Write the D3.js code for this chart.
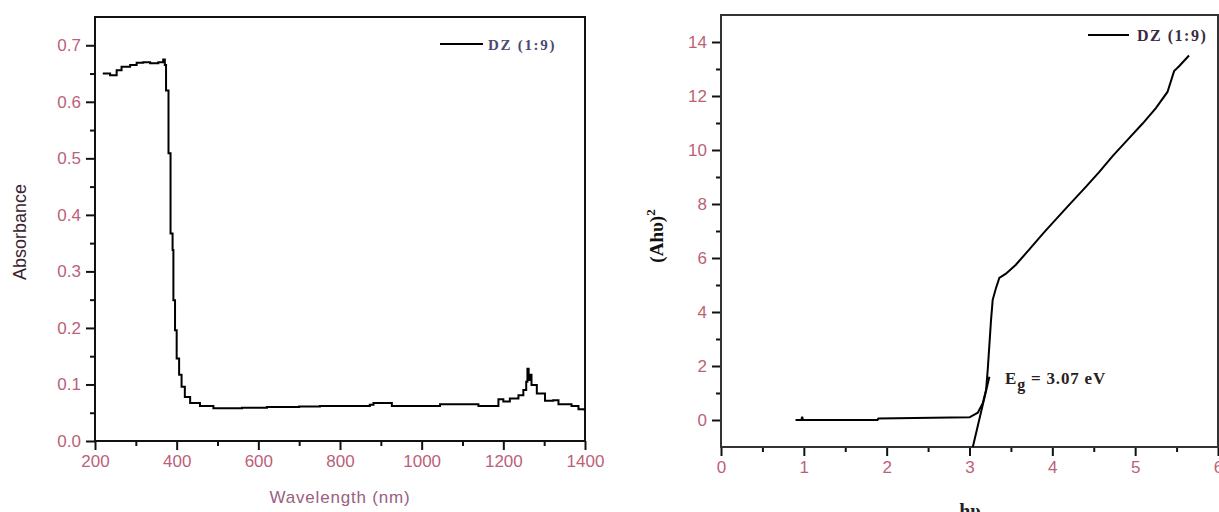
<!DOCTYPE html>
<html>
<head>
<meta charset="utf-8">
<script src="https://cdn.jsdelivr.net/npm/d3@7"></script>
<style>
  html, body { margin: 0; padding: 0; background: #fff; }
  svg { display: block; }
</style>
</head>
<body>
<svg id="chart" width="1219" height="512"></svg>
<script>
// ---------- Data: left panel (UV-Vis absorbance) ----------
const absWavelength = [219, 237, 253, 265, 286, 302, 318, 335, 355, 367, 371, 374, 380, 385, 390, 392, 396, 400, 406, 412, 420, 433, 457, 490, 560, 621, 700, 751, 873, 882, 922, 927, 1041, 1045, 1135, 1139, 1176, 1188, 1200, 1216, 1237, 1249, 1256, 1259, 1262, 1265, 1269, 1282, 1302, 1322, 1335, 1367, 1384, 1398];
const absValue      = [0.650, 0.647, 0.656, 0.662, 0.665, 0.669, 0.670, 0.668, 0.670, 0.675, 0.665, 0.620, 0.509, 0.367, 0.338, 0.249, 0.196, 0.146, 0.117, 0.096, 0.078, 0.067, 0.062, 0.058, 0.059, 0.060, 0.061, 0.062, 0.064, 0.067, 0.067, 0.062, 0.062, 0.065, 0.065, 0.062, 0.062, 0.074, 0.070, 0.075, 0.081, 0.090, 0.105, 0.128, 0.108, 0.117, 0.099, 0.084, 0.071, 0.072, 0.065, 0.062, 0.056, 0.054];
const absXTicks = [200, 400, 600, 800, 1000, 1200, 1400];
const absYTicks = [0.0, 0.1, 0.2, 0.3, 0.4, 0.5, 0.6, 0.7];

// ---------- Data: right panel (Tauc plot) ----------
const taucHv  = [0.90, 0.97, 0.98, 0.99, 1.89, 1.90, 3.00, 3.10, 3.16, 3.20, 3.22, 3.24, 3.26, 3.28, 3.32, 3.36, 3.44, 3.56, 3.72, 3.90, 4.04, 4.20, 4.41, 4.57, 4.73, 4.93, 5.09, 5.25, 5.39, 5.47, 5.53, 5.65];
const taucVal = [0.00, 0.00, 0.12, 0.00, 0.00, 0.06, 0.10, 0.27, 0.62, 1.11, 1.86, 2.78, 3.71, 4.45, 4.89, 5.26, 5.42, 5.75, 6.31, 6.95, 7.42, 7.96, 8.65, 9.20, 9.78, 10.45, 10.98, 11.55, 12.15, 12.92, 13.10, 13.50];
const tangentHv  = [3.04, 3.24];
const tangentVal = [-1.0, 1.6];
const taucXTicks = [0, 1, 2, 3, 4, 5, 6];
const taucYTicks = [0, 2, 4, 6, 8, 10, 12, 14];

const seriesName = "DZ (1:9)";
const bandGapLabel = "3.07 eV";

// ---------- Styles ----------
const tickColor = "#bc5f78";
const axisColor = "#111";
const sans = "'Liberation Sans', Arial, sans-serif";
const serif = "'Liberation Serif', 'Times New Roman', serif";

const svg = d3.select("#chart");

function drawPanel(cfg) {
  const x = d3.scaleLinear().domain(cfg.xDomain).range([cfg.left, cfg.right]);
  const y = d3.scaleLinear().domain(cfg.yDomain).range([cfg.bottom, cfg.top]);
  const g = svg.append("g");

  const xMinor = g.append("g").attr("transform", `translate(0,${cfg.bottom})`)
    .call(d3.axisBottom(x).tickValues(cfg.xMinor).tickSize(5).tickFormat(""));
  const yMinor = g.append("g").attr("transform", `translate(${cfg.left},0)`)
    .call(d3.axisLeft(y).tickValues(cfg.yMinor).tickSize(5).tickFormat(""));

  const xAx = g.append("g").attr("transform", `translate(0,${cfg.bottom})`)
    .call(d3.axisBottom(x).tickValues(cfg.xTicks).tickSize(9).tickSizeOuter(0).tickPadding(5).tickFormat(cfg.xFmt));
  const yAx = g.append("g").attr("transform", `translate(${cfg.left},0)`)
    .call(d3.axisLeft(y).tickValues(cfg.yTicks).tickSize(9).tickSizeOuter(0).tickPadding(5).tickFormat(cfg.yFmt));

  [xMinor, yMinor, xAx, yAx].forEach(a => {
    a.select(".domain").remove();
    a.selectAll("line").attr("stroke", axisColor).attr("stroke-width", 2);
  });
  [xAx, yAx].forEach(a => a.selectAll("text")
    .attr("fill", tickColor).attr("font-family", sans).attr("font-size", 17));

  g.append("rect")
    .attr("x", cfg.left).attr("y", cfg.top)
    .attr("width", cfg.right - cfg.left).attr("height", cfg.bottom - cfg.top)
    .attr("fill", "none").attr("stroke", cfg.frameColor || axisColor).attr("stroke-width", 2);

  return { x, y, g };
}

// ---------- Left panel ----------
const L = drawPanel({
  left: 95, right: 585, top: 17, bottom: 441,
  xDomain: [200, 1400], yDomain: [0, 0.75],
  xTicks: absXTicks, yTicks: absYTicks,
  xMinor: d3.range(300, 1400, 200), yMinor: d3.range(0.05, 0.75, 0.1),
  xFmt: d3.format("d"), yFmt: d3.format(".1f")
});
L.g.append("path")
  .datum(absWavelength.map((w, i) => [w, absValue[i]]))
  .attr("fill", "none").attr("stroke", "#000").attr("stroke-width", 2)
  .attr("d", d3.line().x(d => L.x(d[0])).y(d => L.y(d[1])).curve(d3.curveStepAfter));

L.g.append("text")
  .attr("transform", "translate(26,232) rotate(-90)")
  .attr("text-anchor", "middle").attr("font-family", sans).attr("font-size", 18)
  .attr("fill", "#3a2430").text("Absorbance");
L.g.append("text")
  .attr("x", 340).attr("y", 503)
  .attr("text-anchor", "middle").attr("font-family", sans).attr("font-size", 17)
  .attr("letter-spacing", 0.8)
  .attr("fill", "#9a6080").text("Wavelength (nm)");

// legend left
L.g.append("line").attr("x1", 440).attr("x2", 483).attr("y1", 44).attr("y2", 44)
  .attr("stroke", "#000").attr("stroke-width", 2);
L.g.append("text").attr("x", 488).attr("y", 50)
  .attr("font-family", serif).attr("font-weight", "bold").attr("font-size", 15)
  .attr("letter-spacing", 1.7).attr("fill", "#4a4a70").text(seriesName);

// ---------- Right panel ----------
const R = drawPanel({
  left: 721, right: 1218, top: 15, bottom: 447, frameColor: "#333",
  xDomain: [0, 6], yDomain: [-1, 15],
  xTicks: taucXTicks, yTicks: taucYTicks,
  xMinor: d3.range(0.5, 6, 1), yMinor: d3.range(1, 15, 2),
  xFmt: d3.format("d"), yFmt: d3.format("d")
});
R.g.append("path")
  .datum(tangentHv.map((h, i) => [h, tangentVal[i]]))
  .attr("fill", "none").attr("stroke", "#000").attr("stroke-width", 2)
  .attr("d", d3.line().x(d => R.x(d[0])).y(d => R.y(d[1])));
R.g.append("path")
  .datum(taucHv.map((h, i) => [h, taucVal[i]]))
  .attr("fill", "none").attr("stroke", "#000").attr("stroke-width", 2)
  .attr("d", d3.line().x(d => R.x(d[0])).y(d => R.y(d[1])));

const yl = R.g.append("text")
  .attr("transform", "translate(663,236) rotate(-90)")
  .attr("text-anchor", "middle").attr("font-family", serif).attr("font-weight", "bold")
  .attr("font-size", 19).attr("fill", "#111");
yl.append("tspan").text("(Ahυ)");
yl.append("tspan").attr("dy", -8).attr("font-size", 13).text("2");

R.g.append("text")
  .attr("x", 970).attr("y", 518)
  .attr("text-anchor", "middle").attr("font-family", serif).attr("font-weight", "bold")
  .attr("font-size", 20).attr("fill", "#222").text("hυ");

// band gap annotation
const eg = R.g.append("text").attr("x", 1005).attr("y", 384)
  .attr("font-family", serif).attr("font-weight", "bold").attr("font-size", 17)
  .attr("letter-spacing", 0.8).attr("fill", "#2a2020");
eg.append("tspan").text("E");
eg.append("tspan").attr("dy", 6).attr("font-size", 16).text("g");
eg.append("tspan").attr("dy", -6).text(" = " + bandGapLabel);

// legend right
R.g.append("line").attr("x1", 1088).attr("x2", 1129).attr("y1", 35).attr("y2", 35)
  .attr("stroke", "#000").attr("stroke-width", 2);
R.g.append("text").attr("x", 1137).attr("y", 41)
  .attr("font-family", serif).attr("font-weight", "bold").attr("font-size", 16)
  .attr("letter-spacing", 1.5).attr("fill", "#3a2a40").text(seriesName);
</script>
</body>
</html>
